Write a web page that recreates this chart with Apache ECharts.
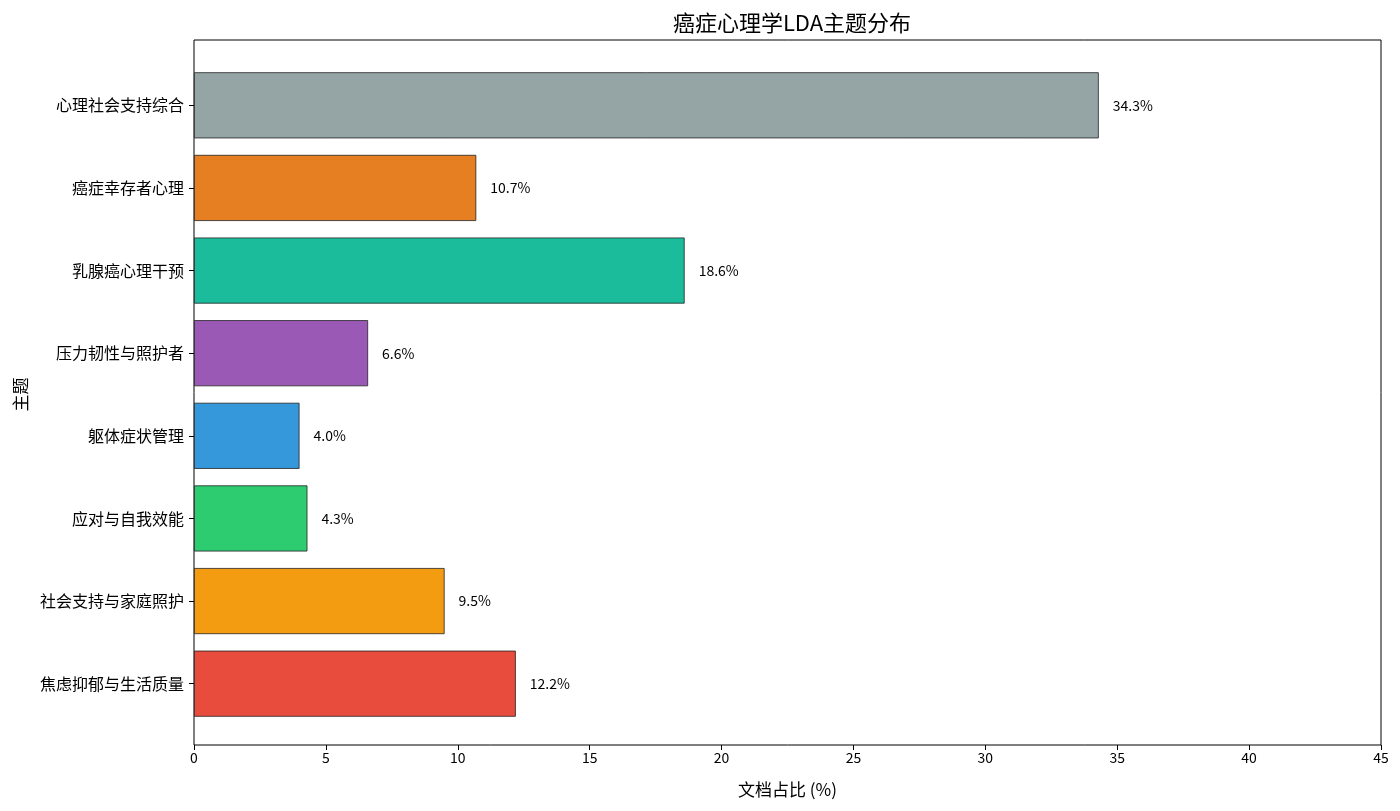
<!doctype html>
<html>

<head>
  <meta charset="utf-8">
  <title>癌症心理学LDA主题分布</title>
  <script src="https://cdn.jsdelivr.net/npm/echarts@6/dist/echarts.min.js"></script>
  <style>
    html, body { margin: 0; padding: 0; background: #fff; }
  </style>
</head>

<body>
  <div id="main" style="width:1400px;height:811px;"></div>
  <script>
  // bottom to top, as in the picture
  var topics = ['焦虑抑郁与生活质量', '社会支持与家庭照护', '应对与自我效能', '躯体症状管理',
                '压力韧性与照护者', '乳腺癌心理干预', '癌症幸存者心理', '心理社会支持综合'];
  var shares = [12.2, 9.5, 4.3, 4.0, 6.6, 18.6, 10.7, 34.3];
  var colors = ['#e74c3c', '#f39c12', '#2ecc71', '#3498db', '#9b59b6', '#1abc9c', '#e67e22', '#95a5a6'];
  var xTicks = [0, 5, 10, 15, 20, 25, 30, 35, 40, 45];

  var font = '"Noto Sans CJK SC", "DejaVu Sans", sans-serif';

  var barData = shares.map(function (v, i) {
    return { value: v, itemStyle: { color: colors[i] } };
  });

  var option = {
    backgroundColor: '#fff',
    animation: false,
    textStyle: { fontFamily: font },
    title: {
      text: '癌症心理学LDA主题分布',
      left: 787,
      textAlign: 'center',
      top: 7,
      textStyle: { fontSize: 22, fontWeight: 'normal', color: '#000', fontFamily: font }
    },
    grid: [
      // bars: matplotlib leaves a margin above and below the band of categories
      { left: 194, right: 19, top: 64, bottom: 86 },
      // frame
      { left: 194, right: 19, top: 40, bottom: 66, show: true, borderColor: '#000', borderWidth: 1, backgroundColor: 'transparent' }
    ],
    xAxis: [
      {
        gridIndex: 0,
        type: 'value',
        min: 0,
        max: 45,
        interval: 5,
        offset: 20,
        name: '文档占比 (%)',
        nameLocation: 'middle',
        nameGap: 36,
        nameTextStyle: { fontSize: 17, color: '#000' },
        axisLine: { show: false },
        axisTick: { show: true, length: 5, lineStyle: { color: '#000' } },
        axisLabel: {
          fontSize: 14, color: '#000', margin: 6,
          formatter: function (v) { return xTicks.indexOf(v) >= 0 ? String(v) : ''; }
        },
        splitLine: { show: false }
      },
      { gridIndex: 1, type: 'value', min: 0, max: 1, show: false }
    ],
    yAxis: [
      {
        gridIndex: 0,
        type: 'category',
        data: topics,
        name: '主题',
        nameLocation: 'middle',
        nameGap: 164,
        nameRotate: 90,
        nameTextStyle: { fontSize: 17, color: '#000' },
        axisLine: { show: false },
        axisTick: { show: true, alignWithLabel: true, length: 5, lineStyle: { color: '#000' } },
        axisLabel: { fontSize: 16, color: '#000', margin: 10 }
      },
      { gridIndex: 1, type: 'value', min: 0, max: 1, show: false }
    ],
    series: [
      {
        type: 'bar',
        xAxisIndex: 0,
        yAxisIndex: 0,
        data: barData,
        barWidth: '80%',
        itemStyle: { borderColor: '#222', borderWidth: 0.8 },
        label: {
          show: true,
          position: 'right',
          distance: 14,
          fontSize: 14,
          color: '#000',
          formatter: function (p) { return p.value.toFixed(1) + '%'; }
        }
      }
    ]
  };

  var myChart = echarts.init(document.getElementById('main'));
  myChart.setOption(option);
  </script>
</body>

</html>
